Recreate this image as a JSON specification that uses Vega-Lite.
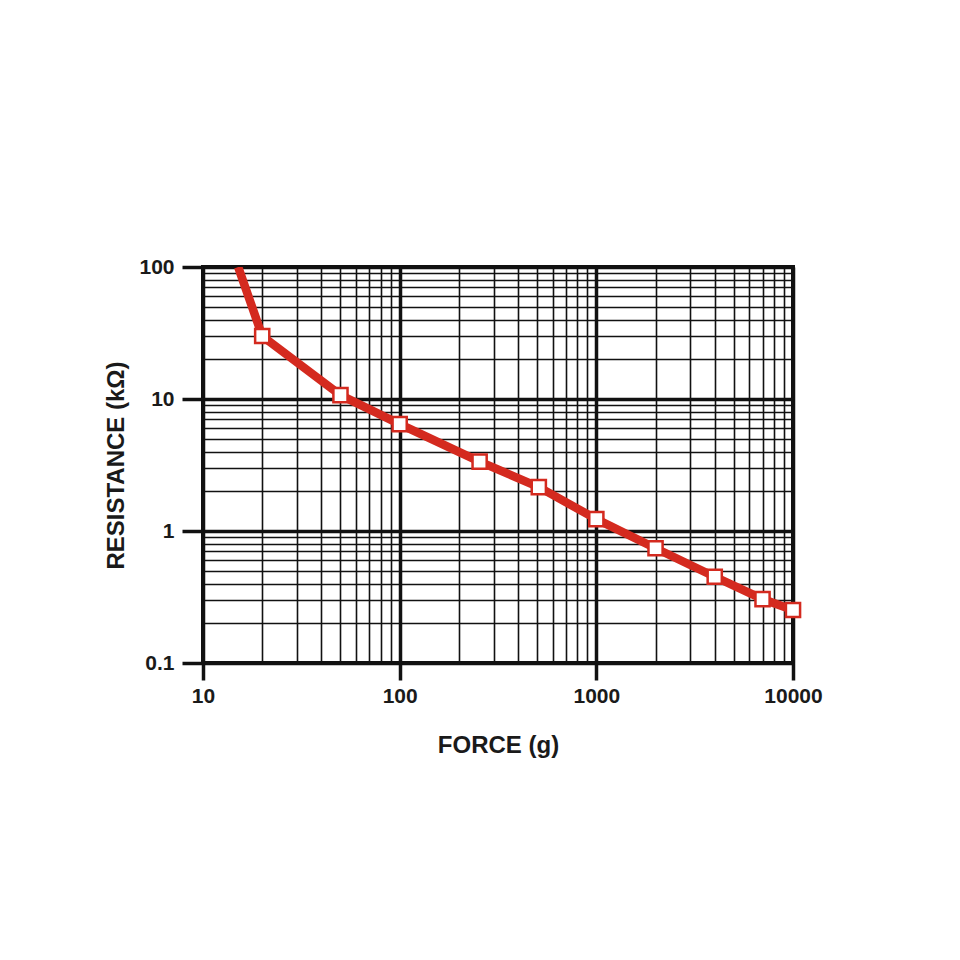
{
  "$schema": "https://vega.github.io/schema/vega-lite/v6.json",
  "autosize": "none",
  "width": 590,
  "height": 396,
  "padding": {"left": 203, "top": 267, "right": 167, "bottom": 297},
  "background": "white",
  "config": {
    "view": {"stroke": "#111", "strokeWidth": 4},
    "font": "Liberation Sans"
  },
  "data": {
    "values": [
      {"force": 15.1, "resistance": 100, "marker": false},
      {"force": 20, "resistance": 30, "marker": true},
      {"force": 50, "resistance": 10.7, "marker": true},
      {"force": 100, "resistance": 6.45, "marker": true},
      {"force": 255, "resistance": 3.35, "marker": true},
      {"force": 510, "resistance": 2.15, "marker": true},
      {"force": 1000, "resistance": 1.23, "marker": true},
      {"force": 2000, "resistance": 0.74, "marker": true},
      {"force": 4000, "resistance": 0.45, "marker": true},
      {"force": 7000, "resistance": 0.305, "marker": true},
      {"force": 10000, "resistance": 0.252, "marker": true}
    ]
  },
  "encoding": {
    "x": {
      "field": "force",
      "type": "quantitative",
      "scale": {"type": "log", "domain": [10, 10000], "nice": false},
      "axis": {
        "title": "FORCE (g)",
        "values": [10,20,30,40,50,60,70,80,90,100,200,300,400,500,600,700,800,900,1000,2000,3000,4000,5000,6000,7000,8000,9000,10000],
        "labelExpr": "indexof([10,100,1000,10000], datum.value) >= 0 ? '' + datum.value : ''",
        "labelOverlap": false,
        "labelBound": false,
        "labelFlush": false,
        "labelFont": "Liberation Sans",
        "labelFontWeight": "bold",
        "labelFontSize": 21,
        "labelColor": "#1a1a1a",
        "labelPadding": 5,
        "domain": false,
        "grid": true,
        "gridColor": "#111",
        "gridOpacity": 1,
        "gridWidth": {"condition": {"test": "indexof([10,100,1000,10000], datum.value) >= 0", "value": 3.5}, "value": 1.6},
        "ticks": true,
        "tickColor": "#111",
        "tickSize": 17,
        "tickWidth": 3.5,
        "tickOpacity": {"condition": {"test": "indexof([10,100,1000,10000], datum.value) >= 0", "value": 1}, "value": 0},
        "titleFont": "Liberation Sans",
        "titleFontWeight": "bold",
        "titleFontSize": 24,
        "titleColor": "#1a1a1a",
        "titlePadding": 27
      }
    },
    "y": {
      "field": "resistance",
      "type": "quantitative",
      "scale": {"type": "log", "domain": [0.1, 100], "nice": false},
      "axis": {
        "title": "RESISTANCE (kΩ)",
        "values": [0.1,0.2,0.3,0.4,0.5,0.6,0.7,0.8,0.9,1,2,3,4,5,6,7,8,9,10,20,30,40,50,60,70,80,90,100],
        "labelExpr": "indexof([0.1,1,10,100], datum.value) >= 0 ? '' + datum.value : ''",
        "labelOverlap": false,
        "labelBound": false,
        "labelFlush": false,
        "labelFont": "Liberation Sans",
        "labelFontWeight": "bold",
        "labelFontSize": 21,
        "labelColor": "#1a1a1a",
        "labelPadding": 8,
        "domain": false,
        "grid": true,
        "gridColor": "#111",
        "gridOpacity": 1,
        "gridWidth": {"condition": {"test": "indexof([0.1,1,10,100], datum.value) >= 0", "value": 3.5}, "value": 1.6},
        "ticks": true,
        "tickColor": "#111",
        "tickSize": 21,
        "tickWidth": 3.5,
        "tickOpacity": {"condition": {"test": "indexof([0.1,1,10,100], datum.value) >= 0", "value": 1}, "value": 0},
        "titleFont": "Liberation Sans",
        "titleFontWeight": "bold",
        "titleFontSize": 24,
        "titleColor": "#1a1a1a",
        "titlePadding": 10
      }
    }
  },
  "layer": [
    {
      "mark": {"type": "line", "color": "#d42a1f", "strokeWidth": 8.5, "strokeJoin": "round", "strokeCap": "butt", "clip": true}
    },
    {
      "transform": [{"filter": "datum.marker"}],
      "mark": {"type": "point", "shape": "square", "filled": true, "fill": "white", "stroke": "#d42a1f", "strokeWidth": 2.5, "size": 200, "opacity": 1}
    }
  ]
}
